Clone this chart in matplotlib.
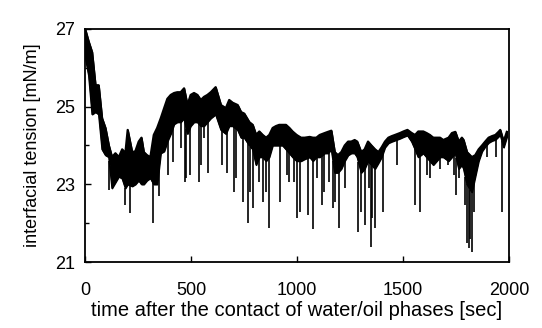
import numpy as np
import matplotlib
matplotlib.use("Agg")
import matplotlib.pyplot as plt
from matplotlib.ticker import MultipleLocator

plt.rcParams['font.family'] = ['Liberation Sans', 'DejaVu Sans']

# envelope of the dense trace (time [s], upper, lower)
t_env = [0, 17, 33, 49, 64, 80, 96, 112, 127, 143, 159, 175, 190, 201, 222, 237, 253, 266,
         277, 292, 308, 324, 340, 357, 373, 388, 404, 420, 435, 451, 467, 483, 498, 514,
         530, 546, 561, 577, 593, 616, 641, 664, 680, 696, 720, 736, 751, 775, 791, 807,
         822, 838, 854, 869, 885, 901, 916, 932, 948, 964, 979, 998, 1019, 1036, 1060,
         1075, 1091, 1107, 1131, 1146, 1162, 1178, 1193, 1209, 1225, 1241, 1256, 1272,
         1284, 1303, 1319, 1335, 1351, 1368, 1384, 1399, 1415, 1431, 1447, 1462, 1486,
         1502, 1521, 1541, 1557, 1572, 1596, 1611, 1627, 1643, 1659, 1675, 1690, 1715,
         1731, 1747, 1763, 1778, 1786, 1802, 1825, 1841, 1857, 1873, 1888, 1904, 1920,
         1936, 1951, 1959, 1975, 1990]
upper = [27.0, 26.67, 26.4, 25.55, 25.55, 24.7, 24.45, 24.0, 23.7, 23.8, 23.7, 23.9, 23.8,
         24.4, 23.83, 23.85, 24.1, 24.2, 23.83, 23.75, 23.7, 24.27, 24.45, 24.7, 24.96,
         25.2, 25.3, 25.35, 25.37, 25.37, 25.47, 25.04, 25.3, 25.35, 25.3, 25.17, 25.25,
         25.3, 25.37, 25.5, 25.04, 24.96, 25.17, 25.1, 25.04, 24.86, 24.82, 24.6, 24.53,
         24.27, 24.36, 24.27, 24.2, 24.27, 24.45, 24.5, 24.53, 24.53, 24.53, 24.45, 24.36,
         24.27, 24.2, 24.2, 24.22, 24.2, 24.2, 24.27, 24.32, 24.35, 24.38, 23.83, 23.75,
         23.83, 24.0, 24.1, 24.1, 24.14, 24.1, 23.83, 23.9, 24.1, 24.0, 23.9, 23.83, 23.95,
         24.1, 24.2, 24.24, 24.27, 24.32, 24.36, 24.4, 24.32, 24.27, 24.36, 24.36, 24.32,
         24.27, 24.2, 24.2, 24.2, 24.14, 24.2, 24.32, 24.35, 24.1, 24.2, 24.14, 23.83, 23.7,
         23.75, 23.9, 24.0, 24.1, 24.2, 24.24, 24.27, 24.35, 24.4, 24.1, 24.35]
lower = [26.3, 25.8, 24.8, 24.86, 24.8, 23.9, 23.75, 23.7, 22.9, 23.05, 23.2, 23.15, 22.9,
         23.0, 22.95, 23.0, 23.1, 23.0, 23.0, 23.1, 23.16, 23.0, 23.0, 23.8, 23.85, 24.1,
         24.3, 24.55, 24.6, 24.6, 24.7, 24.3, 24.5, 24.6, 24.6, 24.5, 24.5, 24.6, 24.7,
         24.8, 24.4, 24.3, 24.5, 24.5, 24.4, 24.2, 24.2, 24.0, 23.9, 23.5, 23.7, 23.7, 23.6,
         23.7, 24.0, 24.0, 24.0, 24.0, 23.9, 23.8, 23.7, 23.6, 23.6, 23.65, 23.7, 23.6, 23.7,
         23.7, 23.8, 23.8, 23.9, 23.3, 23.3, 23.4, 23.6, 23.75, 23.8, 23.8, 23.7, 23.3, 23.4,
         23.6, 23.5, 23.4, 23.55, 23.7, 23.95, 24.06, 24.1, 24.13, 24.18, 24.22, 24.26, 24.1,
         23.9, 23.7, 23.8, 23.7, 23.6, 23.5, 23.6, 23.7, 23.7, 23.6, 23.7, 23.8, 23.4, 23.5,
         23.4, 23.0, 22.8, 23.2, 23.6, 23.85, 23.97, 24.07, 24.12, 24.15, 24.23, 24.28,
         23.95, 24.22]

# downward spikes (time [s], minimum value)
spike_t = [114, 190, 212, 321, 349, 390, 415, 451, 470, 478, 495, 536, 546, 561, 580, 645,
           670, 704, 712, 744, 767, 780, 791, 819, 841, 854, 869, 922, 951, 964, 987, 1001,
           1012, 1050, 1077, 1096, 1117, 1128, 1152, 1170, 1181, 1200, 1225, 1290, 1300,
           1322, 1340, 1347, 1356, 1368, 1404, 1473, 1557, 1580, 1615, 1627, 1675, 1690,
           1712, 1741, 1752, 1766, 1794, 1802, 1810, 1818, 1825, 1835, 1896, 1938, 1967]
spike_v = [22.85, 22.46, 22.25, 22.0, 22.7, 23.25, 23.57, 23.93, 23.05, 23.16, 23.24, 23.05,
           23.5, 24.2, 23.3, 23.5, 23.3, 22.8, 23.16, 22.54, 22.0, 22.8, 22.4, 23.05, 22.54,
           22.8, 21.87, 22.54, 23.24, 23.05, 23.05, 22.13, 22.28, 22.2, 21.85, 23.16, 22.46,
           22.8, 23.05, 22.38, 22.54, 21.87, 22.9, 21.77, 22.28, 21.95, 22.9, 21.4, 22.13,
           21.87, 22.28, 23.5, 22.46, 22.28, 23.24, 23.16, 23.4, 23.67, 23.5, 23.24, 22.72,
           23.16, 22.46, 21.5, 21.35, 21.6, 21.25, 22.3, 23.7, 23.7, 22.28]

y_ticks = [21, 23, 25, 27]
x_ticks = [0, 500, 1000, 1500, 2000]

fig = plt.figure(figsize=(5.42, 3.28), dpi=100)
ax = fig.add_axes([0.157, 0.201, 0.782, 0.711])

ax.fill_between(t_env, lower, upper, color='black', linewidth=1.0)
ax.plot(t_env, upper, color='black', lw=1.6)
ax.plot(t_env, lower, color='black', lw=1.0)
base = np.interp(spike_t, t_env, lower)
ax.vlines(spike_t, spike_v, base, color='black', lw=1.2)

ax.set_xlim(0, 2000)
ax.set_ylim(21, 27)
ax.set_xticks(x_ticks)
ax.set_yticks(y_ticks)
ax.yaxis.set_minor_locator(MultipleLocator(1))
ax.tick_params(axis='both', which='both', direction='in', labelsize=13, width=1.0)
ax.tick_params(axis='both', which='major', length=4)
ax.tick_params(axis='both', which='minor', length=3)
ax.tick_params(axis='x', pad=14)
ax.tick_params(axis='y', pad=7)
for s in ax.spines.values():
    s.set_linewidth(1.3)

ax.set_xlabel('time after the contact of water/oil phases [sec]', fontsize=14.5, labelpad=2)
ax.set_ylabel('interfacial tension [mN/m]', fontsize=13, labelpad=10)

fig.savefig('out.png', dpi=100)
